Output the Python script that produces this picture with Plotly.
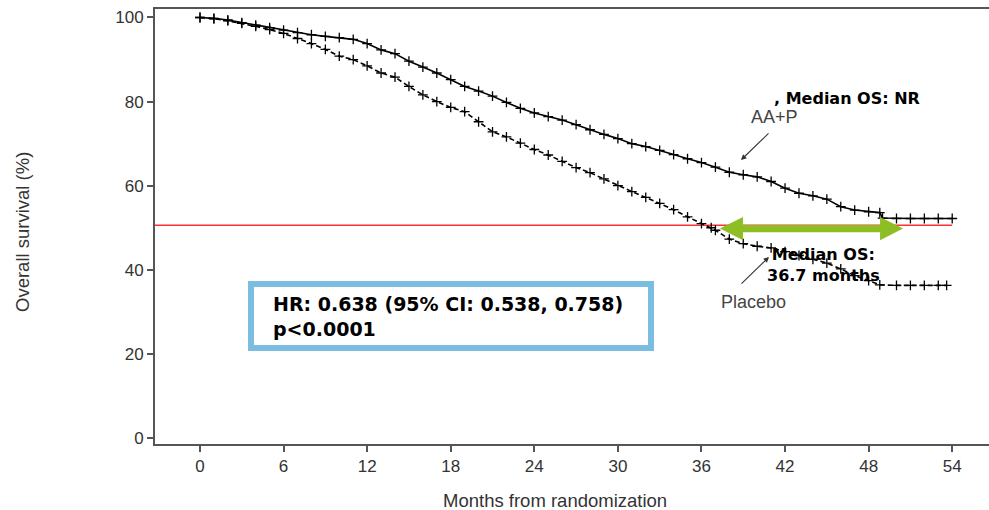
import plotly.graph_objects as go

# ---------------- data ----------------
aap_months = [0, 1, 2, 3, 4, 5, 6, 7, 8, 9, 10, 11, 12, 13, 14, 15, 16, 17, 18, 19, 20,
              21, 22, 23, 24, 25, 26, 27, 28, 29, 30, 31, 32, 33, 34, 35, 36, 37, 38, 39,
              40, 41, 42, 43, 44, 45, 46, 47, 48, 48.8, 49, 50, 51, 52, 53, 54]
aap_os = [100, 99.8, 99.4, 98.8, 98.2, 97.6, 97.0, 96.4, 95.9, 95.5, 95.2, 94.8, 93.8, 92.3,
          91.4, 89.6, 88.2, 86.8, 85.2, 83.6, 82.5, 81.3, 79.8, 78.4, 77.3, 76.4, 75.6, 74.5,
          73.3, 72.2, 71.2, 70.0, 69.3, 68.4, 67.4, 66.4, 65.5, 64.4, 63.2, 62.6, 62.1, 61.0,
          59.4, 58.2, 57.6, 56.8, 55.0, 54.2, 53.8, 53.6, 52.3, 52.2, 52.2, 52.2, 52.2, 52.2]

pbo_months = [0, 1, 2, 3, 4, 5, 6, 7, 8, 9, 10, 11, 12, 13, 14, 15, 16, 17, 18, 19, 20,
              21, 22, 23, 24, 25, 26, 27, 28, 29, 30, 31, 32, 33, 34, 35, 36, 36.7, 37, 38,
              39, 40, 41, 42, 43, 44, 45, 46, 47, 48, 48.8, 50, 51, 52, 53, 53.6]
pbo_os = [100, 99.7, 99.2, 98.6, 97.9, 97.1, 96.2, 95.0, 93.8, 92.4, 90.8, 90.0, 88.5, 86.8,
          85.8, 83.6, 81.6, 80.0, 78.6, 77.6, 75.2, 72.8, 71.6, 70.1, 68.6, 67.3, 65.8, 64.3,
          63.1, 61.6, 60.0, 58.6, 57.2, 55.8, 54.3, 52.6, 51.0, 50.0, 49.4, 47.3, 46.2, 45.6,
          45.2, 44.3, 43.4, 42.5, 41.6, 40.2, 38.6, 37.4, 36.4, 36.3, 36.3, 36.3, 36.3, 36.3]

x_ticks = [0, 6, 12, 18, 24, 30, 36, 42, 48, 54]
y_ticks = [0, 20, 40, 60, 80, 100]
median_line = 50.6
median_pbo = 36.7

# ---------------- layout geometry (pixels) ----------------
W, H = 989, 510
L, R, T, B = 155, 0, 9, 66
PW, PH = W - L - R, H - T - B

def px(xp):
    return (xp - L) / PW

def py(yp):
    return (H - B - yp) / PH

tick_font = dict(family="Liberation Sans, Arial, sans-serif", size=17, color="#333333")
bold = "DejaVu Sans, Verdana, sans-serif"

fig = go.Figure()

fig.add_trace(go.Scatter(
    x=aap_months, y=aap_os, mode="lines+markers", name="AA+P",
    line=dict(color="black", width=1.6),
    marker=dict(symbol="cross-thin", size=7, line=dict(color="black", width=1.3)),
    showlegend=False, hoverinfo="skip"))

fig.add_trace(go.Scatter(
    x=pbo_months, y=pbo_os, mode="lines+markers", name="Placebo",
    line=dict(color="black", width=1.6, dash="5px,3px"),
    marker=dict(symbol="cross-thin", size=7, line=dict(color="black", width=1.3)),
    showlegend=False, hoverinfo="skip"))

# red median line
fig.add_shape(type="line", xref="x", yref="y", x0=-3.5, x1=54, y0=median_line, y1=median_line,
              line=dict(color="#ff3030", width=1.5), layer="below")

# green double-headed arrow (data coords)
xl, xr = 37.33, 50.47
hl = 1.65   # head length (months)
hs = 0.85   # shaft half-thickness
hh = 2.75   # head half-height
yc = 49.8
path = (f"M {xl},{yc} L {xl+hl},{yc+hh} L {xl+hl},{yc+hs} L {xr-hl},{yc+hs} "
        f"L {xr-hl},{yc+hh} L {xr},{yc} L {xr-hl},{yc-hh} L {xr-hl},{yc-hs} "
        f"L {xl+hl},{yc-hs} L {xl+hl},{yc-hh} Z")
fig.add_shape(type="path", xref="x", yref="y", path=path,
              fillcolor="#8dbf24", line=dict(color="#8dbf24", width=0))

# HR box
fig.add_shape(type="rect", xref="paper", yref="paper",
              x0=px(251), x1=px(651), y0=py(284), y1=py(348),
              line=dict(color="#7bbde0", width=6), fillcolor="white")

ann = []
ann.append(dict(x=px(271), y=py(316), xref="paper", yref="paper", xanchor="left", yanchor="middle",
                text="<b>HR: 0.638 (95% CI: 0.538, 0.758)<br>p&lt;0.0001</b>", align="left",
                showarrow=False, font=dict(family=bold, size=19, color="black")))
ann.append(dict(x=px(772), y=py(98), xref="paper", yref="paper", xanchor="left", yanchor="middle",
                text="<b>, Median OS: NR</b>", showarrow=False,
                font=dict(family=bold, size=16, color="black")))
ann.append(dict(x=px(823), y=py(265), xref="paper", yref="paper", xanchor="center", yanchor="middle",
                text=f"<b>Median OS:<br>{median_pbo} months</b>", align="center", showarrow=False,
                font=dict(family=bold, size=16, color="black")))
ann.append(dict(x=px(774), y=py(117), xref="paper", yref="paper", xanchor="center", yanchor="middle",
                text="AA+P", showarrow=False,
                font=dict(family="Liberation Sans, Arial", size=18, color="#444444")))
ann.append(dict(x=px(753), y=py(302), xref="paper", yref="paper", xanchor="center", yanchor="middle",
                text="Placebo", showarrow=False,
                font=dict(family="Liberation Sans, Arial", size=18, color="#444444")))
# arrows
ann.append(dict(x=px(741), y=py(160), xref="paper", yref="paper", text="", showarrow=True,
                ax=29, ay=-28, arrowhead=2, arrowsize=1, arrowwidth=1.1, arrowcolor="#333333"))
ann.append(dict(x=px(769), y=py(257), xref="paper", yref="paper", text="", showarrow=True,
                ax=-29, ay=28, arrowhead=2, arrowsize=1, arrowwidth=1.1, arrowcolor="#333333"))
# axis titles
ann.append(dict(x=px(22), y=py(232), xref="paper", yref="paper", text="Overall survival (%)",
                textangle=-90, showarrow=False, xanchor="center", yanchor="middle",
                font=dict(family="Liberation Sans, Arial", size=18.5, color="#333333")))
ann.append(dict(x=px(555), y=py(500), xref="paper", yref="paper", text="Months from randomization",
                showarrow=False, xanchor="center", yanchor="middle",
                font=dict(family="Liberation Sans, Arial", size=18.5, color="#333333")))

x0 = -3.23
x1 = x0 + PW / 13.93
y0 = -1.43
y1 = y0 + PH / 4.205

fig.update_layout(
    width=W, height=H,
    margin=dict(l=L, r=R, t=T, b=B),
    paper_bgcolor="white", plot_bgcolor="white",
    annotations=ann,
    xaxis=dict(range=[x0, x1], tickvals=x_ticks, ticktext=[str(v) for v in x_ticks],
               showgrid=False, zeroline=False, showline=True, mirror=True,
               linecolor="#555555", linewidth=2, ticks="outside", ticklen=6, tickwidth=1.5,
               tickcolor="#555555", tickfont=tick_font),
    yaxis=dict(range=[y0, y1], tickvals=y_ticks, ticktext=[str(v) for v in y_ticks],
               showgrid=False, zeroline=False, showline=True, mirror=False,
               linecolor="#555555", linewidth=2, ticks="outside", ticklen=6, tickwidth=1.5,
               tickcolor="#555555", tickfont=tick_font),
)

fig.write_html("out.html")
